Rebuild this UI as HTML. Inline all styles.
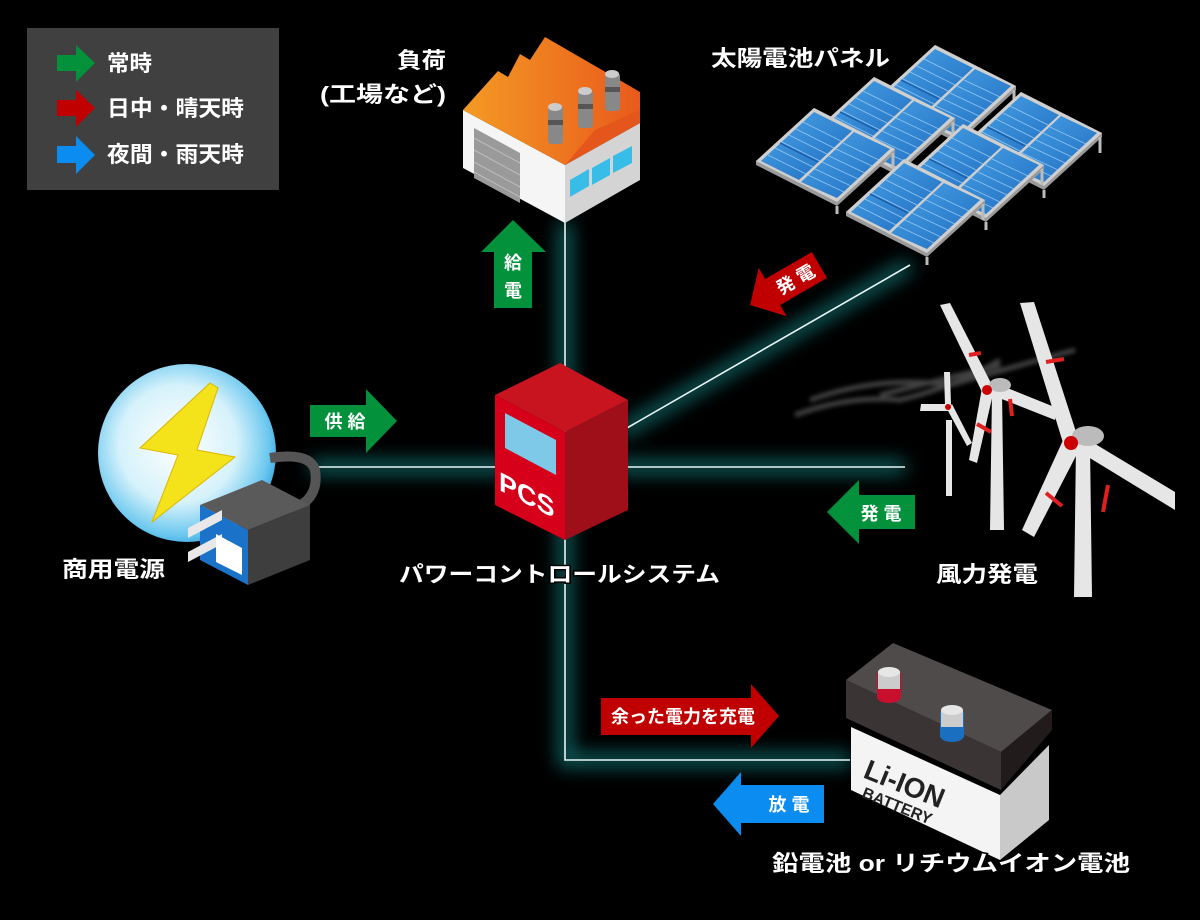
<!DOCTYPE html>
<html><head><meta charset="utf-8">
<style>
html,body{margin:0;padding:0;background:#000;}
svg{display:block}
text{font-family:"Liberation Sans","Noto Sans CJK JP",sans-serif;}
</style></head>
<body>
<svg width="1200" height="920" viewBox="0 0 1200 920" xmlns="http://www.w3.org/2000/svg">
<defs>
<filter id="glow" x="-20%" y="-20%" width="140%" height="140%"><feGaussianBlur stdDeviation="9"/></filter>
<filter id="soft"><feGaussianBlur stdDeviation="2"/></filter>
<radialGradient id="globe" cx="0.45" cy="0.45" r="0.6">
<stop offset="0" stop-color="#ffffff"/><stop offset="0.55" stop-color="#d6f2fb"/><stop offset="0.85" stop-color="#6cc8ef"/><stop offset="1" stop-color="#2d9fdc"/></radialGradient>
<linearGradient id="roof" x1="0" x2="1"><stop offset="0" stop-color="#f49a24"/><stop offset="1" stop-color="#e95a1c"/></linearGradient>
<linearGradient id="pan" x1="0" y1="0" x2="1" y2="1"><stop offset="0" stop-color="#4aa3e6"/><stop offset="1" stop-color="#1e6cc0"/></linearGradient>
<g id="arr">
<polygon points="0,0 58,-53 139,-12 139,-8 81,45 0,4" fill="#9a9a9a"/>
<polygon points="0,0 58,-53 139,-12 81,41" fill="#cfcfcf"/>
<polygon points="5,0 58,-49 96,-30 43,19" fill="url(#pan)"/>
<polygon points="45,21 98,-29 134,-12 81,37" fill="url(#pan)"/>
<g stroke="#a8d4f5" stroke-width="0.8" opacity="0.8">
<line x1="12" y1="-6" x2="50" y2="13"/><line x1="19" y1="-13" x2="57" y2="6"/><line x1="26" y1="-19" x2="64" y2="0"/><line x1="33" y1="-26" x2="71" y2="-7"/><line x1="40" y1="-32" x2="78" y2="-13"/><line x1="47" y1="-39" x2="85" y2="-20"/>
<line x1="52" y1="14" x2="88" y2="31"/><line x1="59" y1="8" x2="95" y2="25"/><line x1="66" y1="1" x2="102" y2="18"/><line x1="73" y1="-5" x2="109" y2="12"/><line x1="80" y1="-12" x2="116" y2="5"/><line x1="87" y1="-18" x2="123" y2="-1"/>
</g>
<line x1="24" y1="-18" x2="62" y2="1" stroke="#1a5ea8" stroke-width="1.5"/>
<line x1="66" y1="20" x2="102" y2="-12" stroke="#1a5ea8" stroke-width="0" />
<line x1="81" y1="45" x2="81" y2="53" stroke="#bbb" stroke-width="3"/>
<line x1="137" y1="-8" x2="137" y2="8" stroke="#bbb" stroke-width="3"/>
</g>
</defs>
<rect width="1200" height="920" fill="#000"/>

<!-- glow lines -->
<g stroke="#1fb5b5" stroke-width="14" fill="none" opacity="0.55" filter="url(#glow)">
<polyline points="565,222 565,760 850,760"/>
<line x1="310" y1="467" x2="905" y2="467"/>
<line x1="620" y1="432" x2="910" y2="265"/>
</g>
<g stroke="#e8f4f4" stroke-width="1.6" fill="none">
<polyline points="565,222 565,760 850,760"/>
<line x1="310" y1="467" x2="905" y2="467"/>
<line x1="620" y1="432" x2="910" y2="265"/>
</g>

<!-- legend -->
<rect x="27" y="28" width="252" height="162" fill="#404040"/>
<polygon points="57,55 76,55 76,45 95,63 76,82 76,71 57,71" fill="#03913b"/>
<polygon points="57,100 76,100 76,90 95,108 76,127 76,116 57,116" fill="#c00000"/>
<polygon points="57,146 76,146 76,136 95,155 76,174 76,163 57,163" fill="#0a8cf0"/>
<g fill="#fff" font-size="22" font-weight="bold">
<text x="107" y="71" textLength="45" lengthAdjust="spacingAndGlyphs">常時</text>
<text x="107" y="116" textLength="137" lengthAdjust="spacingAndGlyphs">日中・晴天時</text>
<text x="107" y="162" textLength="137" lengthAdjust="spacingAndGlyphs">夜間・雨天時</text>
</g>

<!-- factory -->
<g>
<polygon points="463,110 565,165 565,223 463,168" fill="#f5f5f5"/>
<polygon points="565,165 640,123 640,180 565,223" fill="#d4d4d4"/>
<polygon points="474,128 520,153 520,203 474,178" fill="#9a9a9a"/>
<g stroke="#bcbcbc" stroke-width="1"><line x1="474" y1="138" x2="520" y2="163"/><line x1="474" y1="150" x2="520" y2="175"/><line x1="474" y1="162" x2="520" y2="187"/><line x1="474" y1="172" x2="520" y2="197"/></g>
<polygon points="570,180 589,169 589,186 570,197" fill="#38bde8"/>
<polygon points="592,168 610,158 610,175 592,185" fill="#38bde8"/>
<polygon points="613,156 632,146 632,163 613,173" fill="#38bde8"/>
<polygon points="463,110 498,71 508,77 520,54 530,60 545,37 640,92 640,123 565,165" fill="url(#roof)"/>
<polygon points="565,165 640,123 640,110 595,130" fill="#e4561b"/>
<g fill="#888"><rect x="548" y="106" width="15" height="38" rx="3"/><rect x="578" y="90" width="15" height="38" rx="3"/><rect x="605" y="73" width="15" height="38" rx="3"/></g>
<g fill="#555"><rect x="548" y="120" width="15" height="5"/><rect x="578" y="104" width="15" height="5"/><rect x="605" y="87" width="15" height="5"/></g>
<g fill="#ccc"><ellipse cx="555" cy="107" rx="7" ry="4"/><ellipse cx="585" cy="91" rx="7" ry="4"/><ellipse cx="612" cy="74" rx="7" ry="4"/></g>
</g>
<g fill="#fff" font-size="22" font-weight="bold" stroke="#000" stroke-width="3" paint-order="stroke">
<text x="397" y="68" textLength="49" lengthAdjust="spacingAndGlyphs">負荷</text>
<text x="320" y="102" textLength="126" lengthAdjust="spacingAndGlyphs">(工場など)</text>
</g>

<!-- 給電 arrow -->
<polygon points="481,252 513,220 546,252 532,252 532,308 494,308 494,252" fill="#03913b"/>
<g fill="#fff" font-size="18" font-weight="bold" text-anchor="middle"><text x="513" y="269">給</text><text x="513" y="297">電</text></g>

<!-- solar -->
<g>
<use href="#arr" x="877" y="98"/>
<use href="#arr" x="816" y="130"/>
<use href="#arr" x="963" y="145"/>
<use href="#arr" x="756" y="161"/>
<use href="#arr" x="905" y="177"/>
<use href="#arr" x="846" y="212"/>
</g>
<text x="711" y="66" fill="#fff" font-size="22" font-weight="bold" stroke="#000" stroke-width="3" paint-order="stroke" textLength="179" lengthAdjust="spacingAndGlyphs">太陽電池パネル</text>

<!-- 発電 red -->
<g transform="translate(790,282) rotate(-30)">
<polygon points="-46,0 -20,-28 -20,-15 34,-15 34,15 -20,15 -20,28" fill="#c00000"/>
<text x="6" y="7" fill="#fff" font-size="18" font-weight="bold" text-anchor="middle">発 電</text>
</g>

<!-- PCS -->
<polygon points="495,395 560,363 628,400 565,432" fill="#c8141e"/>
<polygon points="495,395 565,432 565,540 495,505" fill="#d6001a"/>
<polygon points="565,432 628,400 628,510 565,540" fill="#9e0f1a"/>
<polygon points="505,413 556,440 556,475 505,448" fill="#7ec8e8"/>
<text x="0" y="0" fill="#fff" font-size="27" font-weight="bold" transform="translate(499,490) skewY(27)">PCS</text>
<text x="399" y="582" fill="#fff" font-size="22" font-weight="bold" stroke="#000" stroke-width="3" paint-order="stroke" textLength="321" lengthAdjust="spacingAndGlyphs">パワーコントロールシステム</text>

<!-- globe / plug -->
<circle cx="187" cy="453" r="89" fill="url(#globe)"/>
<polygon points="210,383 140,448 178,455 152,522 235,457 197,450 218,388" fill="#f4e21a" stroke="#d8b800" stroke-width="1"/>
<path d="M290,510 Q320,500 315,470 Q310,452 270,458" stroke="#555" stroke-width="10" fill="none"/>
<polygon points="200,505 262,480 310,505 248,530" fill="#5a5a5a"/>
<polygon points="200,505 248,530 248,585 200,560" fill="#1a73c8"/>
<polygon points="248,530 310,505 310,560 248,585" fill="#3e3e3e"/>
<polygon points="188,528 222,510 222,520 188,538" fill="#e8e8e8"/>
<polygon points="188,552 222,534 222,544 188,562" fill="#e8e8e8"/>
<polygon points="216,534 242,548 242,575 216,562" fill="#fff"/>
<text x="62" y="577" fill="#fff" font-size="22" font-weight="bold" stroke="#000" stroke-width="3" paint-order="stroke" textLength="103" lengthAdjust="spacingAndGlyphs">商用電源</text>

<!-- 供給 -->
<polygon points="310,405 366,405 366,389 397,421 366,453 366,437 310,437" fill="#03913b"/>
<text x="345" y="428" fill="#fff" font-size="18" font-weight="bold" text-anchor="middle">供 給</text>

<!-- wind -->
<g stroke="#777" stroke-width="5" fill="none" opacity="0.55" filter="url(#soft)">
<path d="M795,415 Q850,395 900,400 Q960,385 1000,360"/>
<path d="M810,400 Q880,375 950,385 Q1020,365 1075,350"/>
<path d="M880,395 Q940,380 1000,365"/>
</g>
<g fill="#e6e6e6">
<polygon points="1076,445 1090,445 1092,597 1074,597"/>
<polygon points="992,392 1002,392 1004,530 990,530"/>
<polygon points="946,420 952,420 952,496 946,496"/>
<polygon points="1020,303 1034,302 1078,438 1064,446"/>
<polygon points="1075,449 1082,436 1175,492 1175,510"/>
<polygon points="1064,438 1078,452 1034,537 1022,530"/>
<ellipse cx="1088" cy="436" rx="16" ry="10" fill="#bbb"/>
<circle cx="1071" cy="443" r="7" fill="#c00"/>
<polygon points="940,305 950,303 992,385 982,392"/>
<polygon points="989,394 995,383 1057,408 1055,420"/>
<polygon points="982,388 993,394 977,463 969,460"/>
<ellipse cx="1000" cy="385" rx="11" ry="7" fill="#bbb"/>
<circle cx="987" cy="390" r="5" fill="#c00"/>
<polygon points="944,372 950,372 951,405 945,405"/>
<polygon points="948,404 950,411 920,411 921,404"/>
<polygon points="947,409 952,404 972,443 967,446"/>
<circle cx="948" cy="407" r="3" fill="#c00"/>
</g>
<g stroke="#e02020" stroke-width="4">
<line x1="1046" y1="362" x2="1064" y2="359"/>
<line x1="1108" y1="485" x2="1103" y2="512"/>
<line x1="1046" y1="493" x2="1062" y2="506"/>
<line x1="969" y1="355" x2="981" y2="353"/>
<line x1="1010" y1="399" x2="1012" y2="416"/>
<line x1="977" y1="424" x2="991" y2="432"/>
</g>
<text x="936" y="582" fill="#fff" font-size="22" font-weight="bold" stroke="#000" stroke-width="3" paint-order="stroke" textLength="102" lengthAdjust="spacingAndGlyphs">風力発電</text>

<!-- 発電 green -->
<polygon points="915,495 859,495 859,480 827,512 859,544 859,529 915,529" fill="#03913b"/>
<text x="881" y="520" fill="#fff" font-size="18" font-weight="bold" text-anchor="middle">発 電</text>

<!-- battery -->
<polygon points="846,680 893,643 1052,710 1001,752" fill="#4f4b4b"/>
<polygon points="846,680 1001,752 1001,790 846,718" fill="#3a3434"/>
<polygon points="1001,752 1052,710 1052,730 1001,790" fill="#211b1b"/>
<polygon points="851,727 1000,795 1000,860 851,790" fill="#f4f4f4"/>
<polygon points="1000,795 1049,745 1049,820 1000,860" fill="#c9c9c9"/>
<ellipse cx="889" cy="697" rx="12" ry="6" fill="#c8102e"/>
<rect x="877" y="673" width="24" height="24" fill="#c8102e"/>
<rect x="878" y="672" width="22" height="17" fill="#ccc"/>
<ellipse cx="889" cy="672" rx="11" ry="5" fill="#e6e6e6"/>
<ellipse cx="952" cy="736" rx="12" ry="6" fill="#1a6fc0"/>
<rect x="940" y="712" width="24" height="24" fill="#1a6fc0"/>
<rect x="941" y="710" width="22" height="17" fill="#ccc"/>
<ellipse cx="952" cy="710" rx="11" ry="5" fill="#e6e6e6"/>
<g fill="#222" font-weight="bold">
<text transform="translate(862,777) rotate(22)" font-size="28">Li-ION</text>
<text transform="translate(861,797) rotate(22)" font-size="16">BATTERY</text>
</g>
<text x="772" y="871" fill="#fff" font-size="22" font-weight="bold" stroke="#000" stroke-width="3" paint-order="stroke" textLength="358" lengthAdjust="spacingAndGlyphs">鉛電池 or リチウムイオン電池</text>

<!-- 余った電力を充電 -->
<polygon points="601,698 751,698 751,684 779,716 751,748 751,735 601,735" fill="#c00000"/>
<text x="683" y="723" fill="#fff" font-size="18" font-weight="bold" text-anchor="middle">余った電力を充電</text>

<!-- 放電 -->
<polygon points="824,785 741,785 741,772 713,804 741,836 741,823 824,823" fill="#0a8cf0"/>
<text x="789" y="811" fill="#fff" font-size="18" font-weight="bold" text-anchor="middle">放 電</text>
</svg>
</body></html>
